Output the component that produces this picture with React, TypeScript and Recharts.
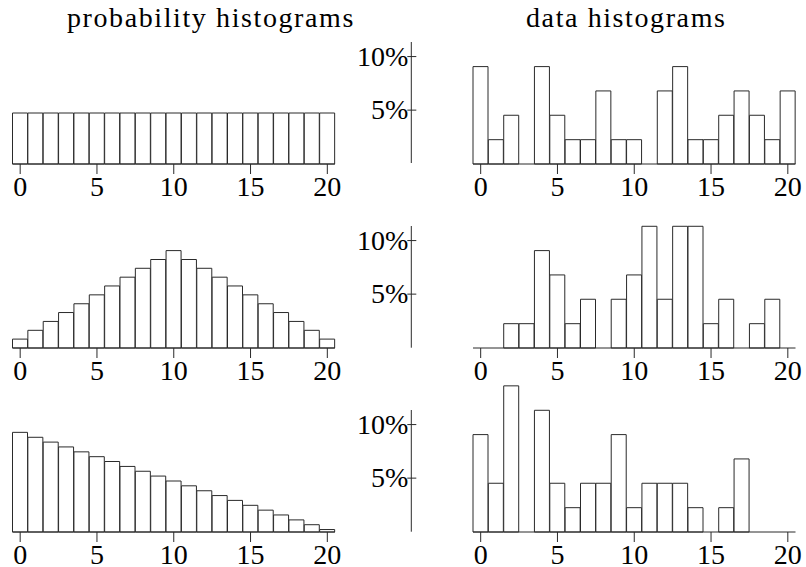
import { BarChart, Bar, XAxis, YAxis } from "recharts";

// bins 0..20 of the count variable
const bins = [0, 1, 2, 3, 4, 5, 6, 7, 8, 9, 10, 11, 12, 13, 14, 15, 16, 17, 18, 19, 20];

// probability histograms (percent per bin)
const uniformProb = [
  4.76, 4.76, 4.76, 4.76, 4.76, 4.76, 4.76, 4.76, 4.76, 4.76, 4.76,
  4.76, 4.76, 4.76, 4.76, 4.76, 4.76, 4.76, 4.76, 4.76, 4.76,
];
const triangleProb = [
  0.83, 1.65, 2.48, 3.31, 4.13, 4.96, 5.79, 6.61, 7.44, 8.26, 9.09,
  8.26, 7.44, 6.61, 5.79, 4.96, 4.13, 3.31, 2.48, 1.65, 0.83,
];
const decreasingProb = [
  9.3, 8.84, 8.39, 7.94, 7.48, 7.03, 6.58, 6.12, 5.67, 5.22, 4.76,
  4.31, 3.85, 3.4, 2.95, 2.49, 2.04, 1.59, 1.13, 0.68, 0.23,
];

// data histograms (percent of sample per bin)
const uniformSample = [
  9.09, 2.27, 4.55, 0, 9.09, 4.55, 2.27, 2.27, 6.82, 2.27, 2.27,
  0, 6.82, 9.09, 2.27, 2.27, 4.55, 6.82, 4.55, 2.27, 6.82,
];
const triangleSample = [
  0, 0, 2.27, 2.27, 9.09, 6.82, 2.27, 4.55, 0, 4.55, 6.82,
  11.36, 4.55, 11.36, 11.36, 2.27, 4.55, 0, 2.27, 4.55, 0,
];
const decreasingSample = [
  9.09, 4.55, 13.64, 0, 11.36, 4.55, 2.27, 4.55, 4.55, 9.09, 2.27,
  4.55, 4.55, 4.55, 2.27, 0, 2.27, 6.82, 0, 0, 0,
];

const pctTicks = [5, 10];
const pctAxisTop = 11.36;
const pctDomainTop = 14;

const FONT = "Liberation Serif";
const INK = "#2a2a2a";
const PLOT_H = 150;
const AXIS_H = 45;
const BASELINES = [163.5, 348, 532];

const toRows = (values: number[]) => bins.map((bin, i) => ({ bin, value: values[i] }));

function Histogram({ values, left, baseline, marginLeft, marginRight }: any) {
  const width = marginLeft + 322.5 + marginRight;
  return (
    <div style={{ position: "absolute", left, top: baseline - PLOT_H }}>
      <BarChart
        width={width}
        height={PLOT_H + AXIS_H}
        data={toRows(values)}
        margin={{ top: 0, right: marginRight, bottom: 0, left: marginLeft }}
        barCategoryGap={0}
        barGap={0}
      >
        <XAxis
          dataKey="bin"
          interval={4}
          height={AXIS_H}
          tickSize={10}
          tickMargin={2}
          axisLine={{ stroke: INK }}
          tickLine={{ stroke: INK }}
          tick={{ fill: "#000", fontSize: 28, fontFamily: FONT }}
        />
        <YAxis hide type="number" domain={[0, pctDomainTop]} />
        <Bar dataKey="value" fill="#fff" stroke={INK} strokeWidth={1} isAnimationActive={false} />
      </BarChart>
    </div>
  );
}

const PercentTick = (props: any) => {
  const { x, y, payload } = props;
  return (
    <g>
      <line x1={x - 4} x2={x + 5} y1={y} y2={y} stroke={INK} />
      <text x={x - 3} y={y} dy="0.33em" textAnchor="end" fontSize={28} fontFamily={FONT} fill="#000">
        {payload.value}%
      </text>
    </g>
  );
};

function PercentAxis({ baseline }: any) {
  const h = (PLOT_H * pctAxisTop) / pctDomainTop;
  return (
    <div style={{ position: "absolute", left: 350, top: baseline - h }}>
      <BarChart width={72} height={h} data={toRows(uniformSample)} margin={{ top: 0, right: 0, bottom: 0, left: 0 }}>
        <XAxis dataKey="bin" hide />
        <YAxis
          type="number"
          width={61.3}
          domain={[0, pctAxisTop]}
          allowDataOverflow
          ticks={pctTicks}
          tickSize={0}
          tickMargin={0}
          axisLine={{ stroke: INK }}
          tickLine={false}
          tick={<PercentTick />}
        />
      </BarChart>
    </div>
  );
}

const titleStyle = (left: number): any => ({
  position: "absolute",
  left,
  top: 3.5,
  fontFamily: FONT,
  fontSize: 28,
  lineHeight: "28px",
  letterSpacing: 1.6,
  whiteSpace: "nowrap",
  color: "#000",
});

const leftSeries = [uniformProb, triangleProb, decreasingProb];
const rightSeries = [uniformSample, triangleSample, decreasingSample];

export default function App() {
  return (
    <div
      style={{
        position: "absolute",
        left: 0,
        top: 0,
        width: 806,
        height: 567,
        overflow: "hidden",
        background: "#fff",
      }}
    >
      <div style={titleStyle(67)}>probability histograms</div>
      <div style={titleStyle(526)}>data histograms</div>
      {BASELINES.map((baseline, i) => (
        <div key={i}>
          <Histogram values={leftSeries[i]} left={0} baseline={baseline} marginLeft={12.5} marginRight={25} />
          <PercentAxis baseline={baseline} />
          <Histogram values={rightSeries[i]} left={440} baseline={baseline} marginLeft={33} marginRight={11} />
        </div>
      ))}
    </div>
  );
}
